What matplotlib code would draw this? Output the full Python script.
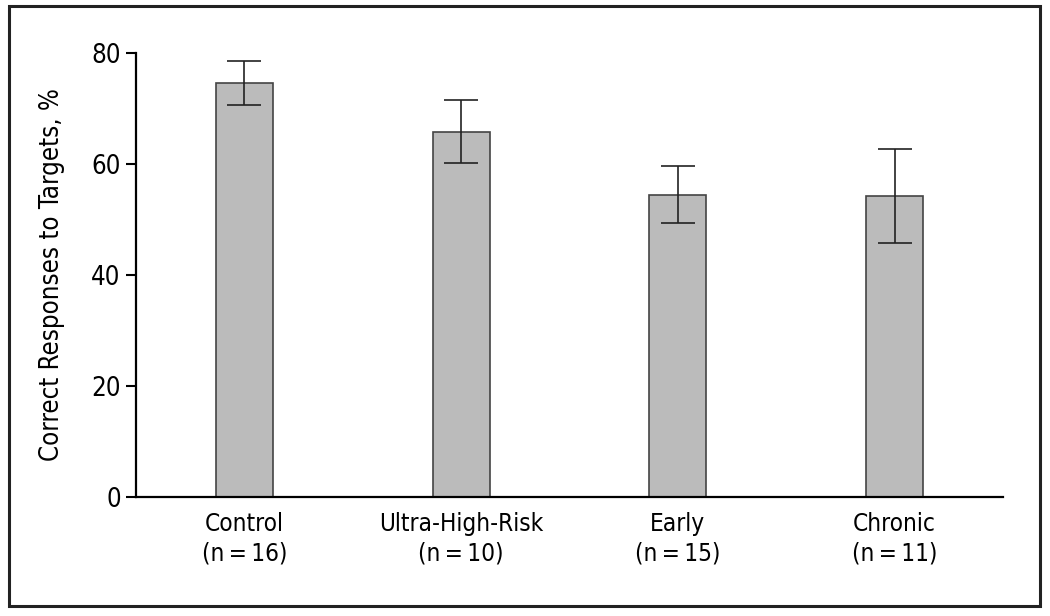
import numpy as np
import matplotlib
matplotlib.use('Agg')
import matplotlib.pyplot as plt
from matplotlib.patches import Rectangle

groups = ['Control', 'Ultra-High-Risk', 'Early', 'Chronic']
n_sizes = [16, 10, 15, 11]
means = [74.6, 65.8, 54.5, 54.2]
errors = [4.0, 5.7, 5.1, 8.5]
yticks = [0, 20, 40, 60, 80]

plt.rcParams['font.family'] = ['DejaVu Sans']
plt.rcParams['font.stretch'] = 'condensed'

fig = plt.figure(figsize=(10.5, 6.16), dpi=100)

# outer frame round the whole figure
fig.patches.append(Rectangle((9 / 1050, 10 / 616), 1031 / 1050, 600 / 616,
                             transform=fig.transFigure, fill=False,
                             edgecolor='#222222', linewidth=2.2))

ax = fig.add_axes([136 / 1050, 119 / 616, 867 / 1050, 444 / 616])

x = np.arange(len(groups))
ax.bar(x, means, width=0.263, color='#bbbbbb', edgecolor='#444444', linewidth=1.2, zorder=2)
ax.errorbar(x, means, yerr=errors, fmt='none', ecolor='#222222',
            elinewidth=1.2, capsize=12, capthick=1.2, zorder=3)

ax.set_xlim(-0.5, 3.5)
ax.set_ylim(0, 80)
ax.set_yticks(yticks)
ax.set_xticks(x)
ax.set_xticklabels(['%s\n(n\u2009=\u2009%d)' % (g, n) for g, n in zip(groups, n_sizes)],
                   fontsize=17.5, linespacing=1.25)
ax.tick_params(axis='x', length=0, pad=11)
ax.tick_params(axis='y', length=7, width=1.5, labelsize=18.5, pad=4, direction='out')

ax.spines['top'].set_visible(False)
ax.spines['right'].set_visible(False)
ax.spines['left'].set_linewidth(1.6)
ax.spines['bottom'].set_linewidth(1.6)

ax.set_ylabel('Correct Responses to Targets, %', fontsize=18.5, labelpad=19)

fig.savefig('out.png', dpi=100)
